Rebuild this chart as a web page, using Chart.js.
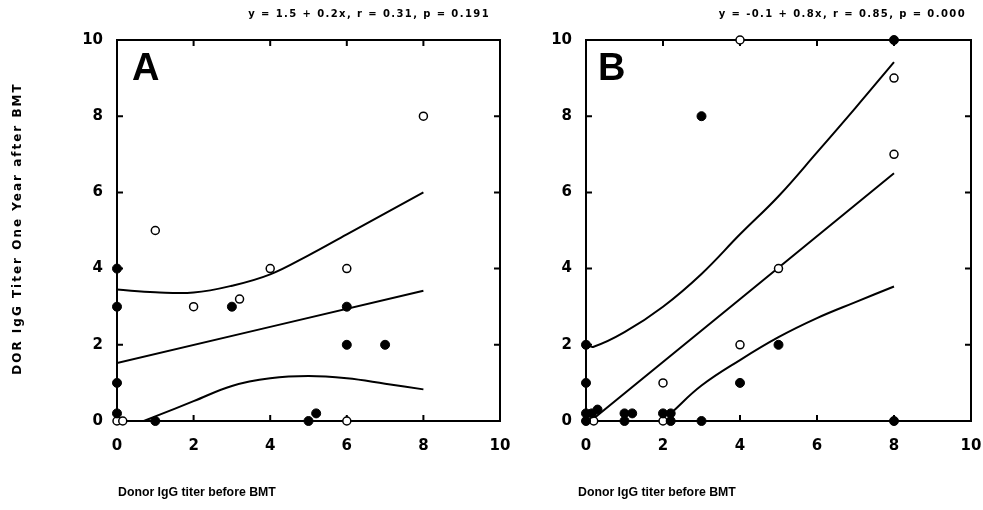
<!DOCTYPE html>
<html>
<head>
<meta charset="utf-8">
<script src="https://cdn.jsdelivr.net/npm/chart.js@4.4.1/dist/chart.umd.min.js"></script>
<style>
  html, body { margin: 0; padding: 0; background: #fff; }
  #wrap { position: relative; width: 983px; height: 510px; }
  #wrap canvas { position: absolute; top: 0; }
</style>
</head>
<body>
<div id="wrap">
  <canvas id="chartA" width="520" height="510" style="left:0"></canvas>
  <canvas id="chartB" width="463" height="510" style="left:520px"></canvas>
</div>
<script>
// [donor titer, recipient titer one year after BMT]
const aClosed = [[0, 4], [0, 3], [0, 1], [0, 0.2], [1, 0], [3, 3], [5, 0], [5.2, 0.2], [6, 3], [6, 2], [7, 2]];
const aOpen = [[0, 0], [0.15, 0], [1, 5], [2, 3], [3.2, 3.2], [4, 4], [6, 4], [6, 0], [8, 8]];
const bClosed = [[0, 2], [0, 1], [0, 0.2], [0.15, 0.2], [0.3, 0.3], [0, 0], [1, 0.2], [1.2, 0.2], [1, 0],
  [2, 0.2], [2.2, 0.2], [2.2, 0], [3, 0], [3, 8], [4, 1], [5, 2], [8, 10], [8, 0]];
const bOpen = [[0.2, 0], [2, 0], [2, 1], [4, 2], [5, 4], [4, 10], [8, 9], [8, 7]];

// regression line and confidence band
const aFit = [[0, 1.52], [8, 3.42]];
const aUpper = [[0, 3.45], [1, 3.38], [2, 3.37], [3, 3.55], [4, 3.85], [5, 4.35], [6, 4.9], [7, 5.45], [8, 6.0]];
const aLower = [[0.7, 0], [1, 0.12], [2, 0.52], [3, 0.92], [4, 1.12], [5, 1.18], [6, 1.12], [7, 0.98], [8, 0.83]];
const bFit = [[0.12, 0], [8, 6.5]];
const bUpper = [[0, 2.0], [0.2, 1.95], [1, 2.33], [2, 3.0], [3, 3.86], [4, 4.9], [5, 5.9], [6, 7.05], [7, 8.22], [8, 9.42]];
const bLower = [[2.2, 0.2], [3, 0.93], [4, 1.6], [5, 2.2], [6, 2.7], [7, 3.12], [8, 3.53]];

const axisMin = 0, axisMax = 10, axisStep = 2;

const toXY = pts => pts.map(p => ({ x: p[0], y: p[1] }));

// box around the plot with inward tick marks on all four sides
const framePlugin = {
  id: 'frame',
  beforeDatasetsDraw(chart) {
    const { ctx, chartArea: a, scales: { x, y } } = chart;
    ctx.save();
    ctx.strokeStyle = '#000';
    ctx.lineWidth = 2;
    ctx.strokeRect(a.left, a.top, a.right - a.left, a.bottom - a.top);
    ctx.beginPath();
    x.ticks.forEach(t => {
      if (t.value <= x.min || t.value >= x.max) return;
      const px = x.getPixelForValue(t.value);
      ctx.moveTo(px, a.bottom); ctx.lineTo(px, a.bottom - 6);
      ctx.moveTo(px, a.top); ctx.lineTo(px, a.top + 6);
    });
    y.ticks.forEach(t => {
      if (t.value <= y.min || t.value >= y.max) return;
      const py = y.getPixelForValue(t.value);
      ctx.moveTo(a.left, py); ctx.lineTo(a.left + 6, py);
      ctx.moveTo(a.right, py); ctx.lineTo(a.right - 6, py);
    });
    ctx.stroke();
    ctx.restore();
  }
};

const panelText = {
  id: 'panelText',
  afterDraw(chart, args, o) {
    const { ctx, chartArea: a } = chart;
    ctx.save();
    ctx.fillStyle = '#000';
    ctx.textBaseline = 'middle';

    ctx.font = 'bold 10px "DejaVu Sans"';
    ctx.letterSpacing = '1.4px';
    ctx.textAlign = 'right';
    ctx.fillText(o.equation, o.eqRight, 14);

    ctx.letterSpacing = '0px';
    ctx.textAlign = 'left';
    ctx.textBaseline = 'alphabetic';
    ctx.font = 'bold 38px "Liberation Sans"';
    ctx.fillText(o.letter, a.left + o.letterDx, 80);

    ctx.textBaseline = 'middle';
    ctx.font = 'bold 12.3px "Liberation Sans"';
    ctx.fillText('Donor IgG titer before BMT', a.left + o.xTitleDx, 493);

    if (o.yTitle) {
      ctx.translate(18, (a.top + a.bottom) / 2 - 2);
      ctx.rotate(-Math.PI / 2);
      ctx.textAlign = 'center';
      ctx.font = 'bold 12px "DejaVu Sans"';
      ctx.letterSpacing = '2px';
      ctx.fillText(o.yTitle, 0, 0);
    }
    ctx.restore();
  }
};

const tickFont = { family: 'DejaVu Sans', size: 15, weight: 'bold' };

function makeChart(id, closed, open, fit, upper, lower, text, yWidth, rightPad) {
  const curve = pts => ({
    data: toXY(pts), showLine: true, pointRadius: 0, borderColor: '#000',
    borderWidth: 2, tension: 0.4, fill: false
  });
  return new Chart(document.getElementById(id), {
    type: 'scatter',
    data: {
      datasets: [
        { data: toXY(closed), pointRadius: 4.5, backgroundColor: '#000', borderColor: '#000', borderWidth: 1, clip: false },
        { data: toXY(open), pointRadius: 4, backgroundColor: '#fff', borderColor: '#000', borderWidth: 1.5, clip: false },
        curve(fit), curve(upper), curve(lower)
      ]
    },
    options: {
      responsive: false,
      animation: false,
      layout: { padding: { top: 40, right: rightPad, bottom: 0, left: 0 } },
      plugins: { legend: { display: false }, tooltip: { enabled: false }, panelText: text },
      scales: {
        x: {
          type: 'linear', min: axisMin, max: axisMax,
          ticks: { stepSize: axisStep, padding: 16, color: '#000', font: tickFont, maxRotation: 0 },
          grid: { display: false, drawTicks: false }, border: { display: false },
          afterFit: s => { s.height = 89; s.paddingLeft = 0; s.paddingRight = 0; }
        },
        y: {
          type: 'linear', min: axisMin, max: axisMax,
          ticks: { stepSize: axisStep, padding: 14, color: '#000', font: tickFont },
          grid: { display: false, drawTicks: false }, border: { display: false },
          afterFit: s => { s.width = yWidth; s.paddingTop = 0; s.paddingBottom = 0; }
        }
      }
    },
    plugins: [framePlugin, panelText]
  });
}

makeChart('chartA', aClosed, aOpen, aFit, aUpper, aLower, {
  letter: 'A', letterDx: 15, xTitleDx: 1, eqRight: 490,
  equation: 'y = 1.5 + 0.2x, r = 0.31, p = 0.191',
  yTitle: 'DOR IgG Titer One Year after BMT'
}, 117, 20);

makeChart('chartB', bClosed, bOpen, bFit, bUpper, bLower, {
  letter: 'B', letterDx: 12, xTitleDx: -8, eqRight: 446,
  equation: 'y = -0.1 + 0.8x, r = 0.85, p = 0.000'
}, 66, 12);
</script>
</body>
</html>
